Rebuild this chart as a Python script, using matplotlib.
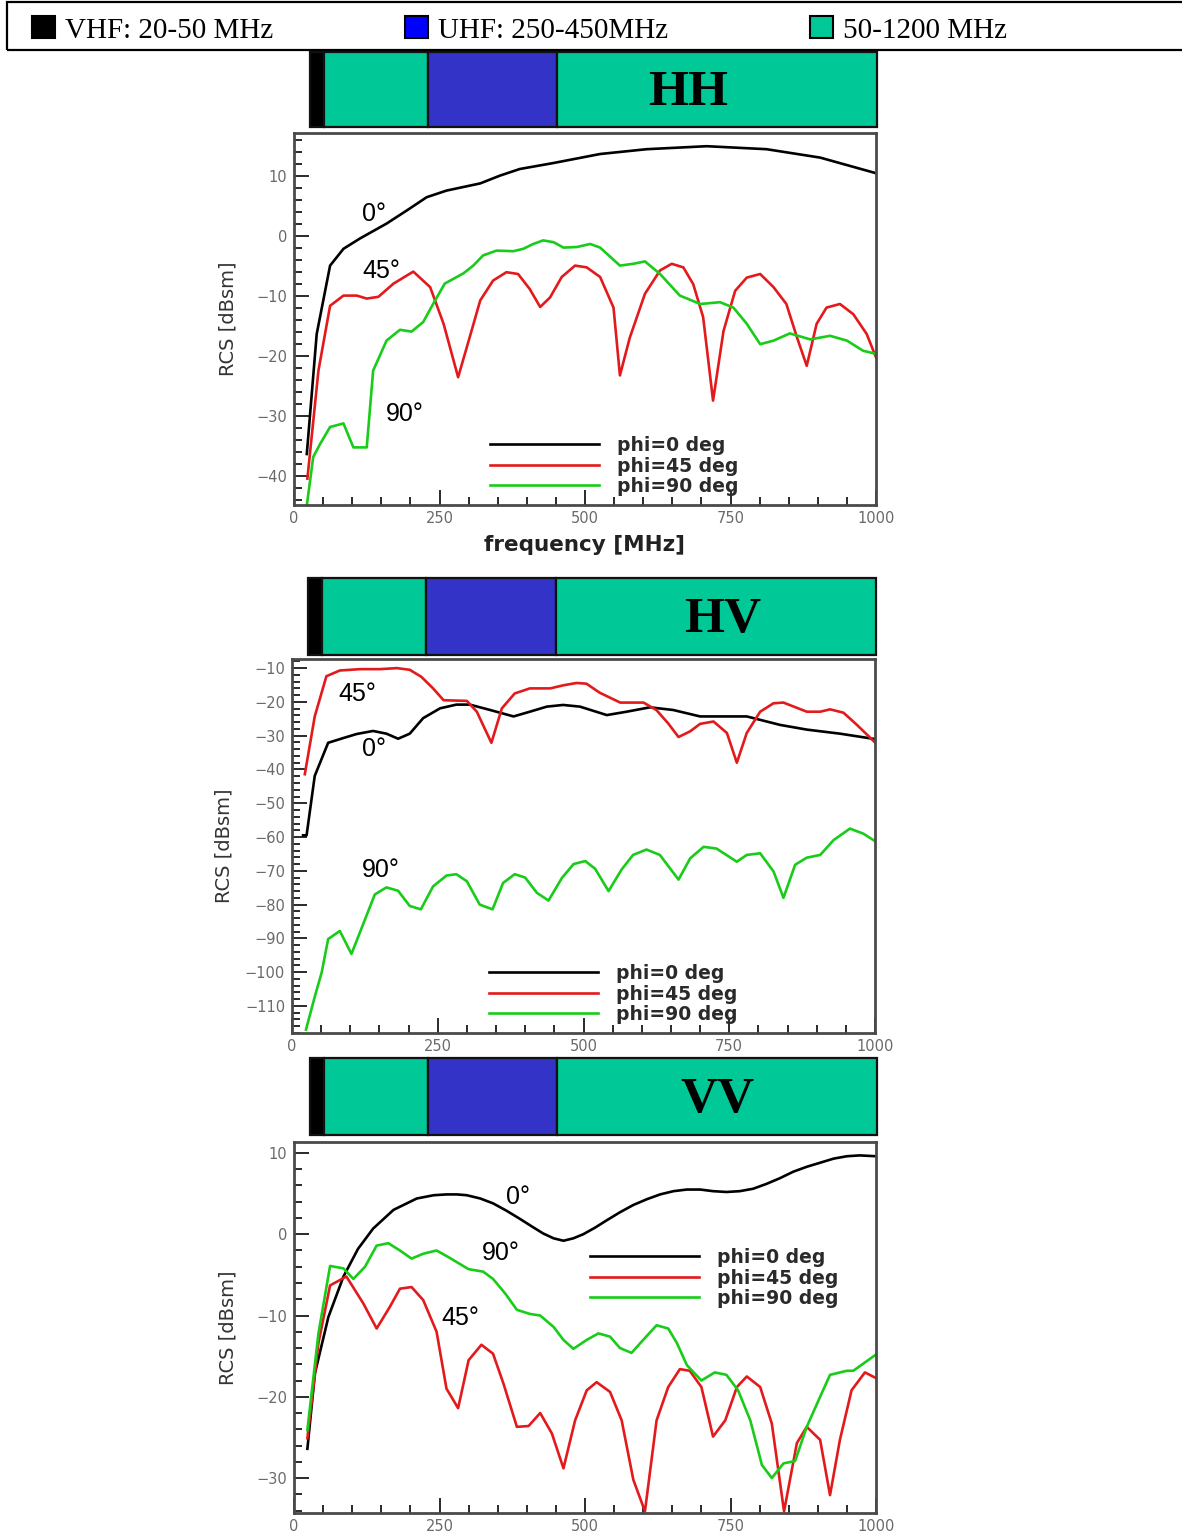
import matplotlib
matplotlib.use("Agg")
import matplotlib.pyplot as plt
from matplotlib.patches import Rectangle
from matplotlib.ticker import MultipleLocator

# ---------------------------------------------------------------- data
# HH polarisation
hh_f0 = [22, 39, 62, 85, 113, 159, 194, 228, 262, 291, 320, 354, 388, 446, 526, 606, 709, 812, 904, 1000]
hh_db0 = [-36.3, -16.3, -4.9, -2.1, -0.4, 2.1, 4.3, 6.5, 7.6, 8.2, 8.8, 10.1, 11.2, 12.2, 13.7, 14.5, 15.0, 14.5, 13.1, 10.5]

hh_f45 = [23, 42, 62, 85, 108, 125, 145, 171, 205, 234, 257, 282, 302, 320, 342, 365, 385, 405, 423,
          440, 460, 483, 503, 526, 549, 560, 577, 603, 629, 649, 669, 686, 703, 720, 738, 758, 778,
          801, 824, 846, 864, 881, 898, 915, 938, 961, 984, 1000]
hh_db45 = [-40.4, -22.4, -11.6, -9.9, -9.9, -10.4, -10.1, -7.9, -5.9, -8.5, -14.6, -23.5, -16.8, -10.7,
           -7.4, -6.0, -6.3, -8.8, -11.8, -10.2, -6.8, -4.9, -5.2, -6.8, -11.9, -23.2, -16.9, -9.6,
           -5.7, -4.6, -5.2, -8.0, -13.5, -27.4, -15.8, -9.1, -6.9, -6.3, -8.5, -11.3, -16.8, -21.6,
           -14.6, -11.9, -11.3, -13.0, -16.3, -20.2]

hh_f90 = [22, 33, 45, 62, 85, 102, 125, 136, 159, 182, 202, 222, 239, 259, 291, 308, 325, 348, 377,
          394, 411, 428, 446, 463, 486, 509, 526, 560, 583, 603, 629, 663, 698, 732, 755, 778, 801,
          824, 852, 887, 921, 950, 978, 1000]
hh_db90 = [-44.9, -36.8, -34.6, -31.8, -31.2, -35.2, -35.2, -22.4, -17.4, -15.6, -15.9, -14.3, -11.3,
           -7.9, -6.2, -4.9, -3.2, -2.4, -2.5, -2.1, -1.3, -0.7, -1.0, -1.9, -1.8, -1.3, -1.9, -4.9,
           -4.6, -4.2, -6.3, -9.9, -11.3, -11.0, -11.9, -14.6, -18.0, -17.4, -16.2, -17.2, -16.6,
           -17.4, -19.1, -19.6]

# HV polarisation
hv_f0 = [19, 25, 39, 62, 88, 111, 139, 162, 182, 202, 225, 254, 282, 305, 340, 380, 408, 437, 465,
         494, 540, 574, 614, 654, 700, 780, 837, 883, 940, 1000]
hv_db0 = [-59.5, -59.5, -41.9, -32.1, -30.7, -29.5, -28.6, -29.4, -30.9, -29.4, -24.8, -21.9, -20.8,
          -20.8, -22.4, -24.3, -22.9, -21.4, -20.9, -21.4, -23.9, -22.9, -21.6, -22.4, -24.3, -24.3,
          -26.8, -28.2, -29.4, -31.0]

hv_f45 = [22, 39, 59, 82, 117, 151, 180, 202, 222, 242, 260, 300, 317, 342, 360, 382, 408, 443, 465,
          488, 505, 528, 563, 603, 625, 645, 663, 683, 700, 723, 746, 763, 780, 803, 826, 843, 883,
          906, 923, 946, 969, 1000]
hv_db45 = [-41.4, -24.3, -12.4, -10.7, -10.3, -10.3, -10.0, -10.5, -12.6, -16.0, -19.5, -19.7, -22.9,
           -32.1, -21.9, -17.5, -16.0, -16.0, -15.1, -14.4, -14.6, -17.3, -20.2, -20.2, -22.4, -26.3,
           -30.4, -28.7, -26.5, -25.8, -29.2, -38.0, -29.2, -22.9, -20.4, -20.2, -22.9, -22.9, -22.2,
           -23.2, -26.8, -32.0]

hv_f90 = [24, 39, 51, 62, 82, 102, 122, 142, 162, 182, 202, 221, 242, 265, 282, 300, 322, 344, 362,
          382, 400, 420, 440, 463, 483, 503, 520, 543, 565, 585, 608, 631, 663, 683, 706, 728, 763,
          780, 803, 826, 843, 863, 883, 906, 929, 957, 980, 1000]
hv_db90 = [-117.0, -107.3, -100.0, -90.2, -87.8, -94.6, -85.8, -77.0, -74.9, -75.9, -80.4, -81.4,
           -74.6, -71.4, -71.0, -73.1, -80.0, -81.4, -73.6, -71.0, -72.0, -76.5, -78.8, -72.1, -68.0,
           -67.1, -69.4, -76.0, -69.7, -65.3, -63.7, -65.3, -72.6, -66.3, -62.9, -63.4, -67.3, -65.3,
           -64.8, -70.2, -78.0, -68.2, -66.1, -65.3, -60.9, -57.5, -59.0, -61.2]

# VV polarisation
vv_f0 = [23, 36, 59, 85, 110, 136, 171, 211, 240, 262, 280, 297, 320, 342, 365, 388, 410, 428, 446,
         463, 480, 497, 517, 537, 560, 583, 606, 629, 652, 675, 698, 720, 743, 766, 789, 812, 835,
         858, 881, 904, 927, 950, 972, 1000]
vv_db0 = [-26.4, -17.1, -10.2, -5.2, -1.8, 0.7, 3.0, 4.4, 4.8, 4.9, 4.9, 4.8, 4.4, 3.8, 2.9, 1.9,
          0.9, 0.1, -0.5, -0.8, -0.5, 0.0, 0.8, 1.7, 2.7, 3.6, 4.3, 4.9, 5.3, 5.5, 5.5, 5.3, 5.2,
          5.3, 5.6, 6.2, 6.9, 7.7, 8.3, 8.8, 9.3, 9.6, 9.7, 9.6]

vv_f45 = [23, 42, 62, 90, 119, 142, 165, 182, 202, 222, 245, 262, 282, 300, 322, 342, 360, 383, 403,
          423, 443, 463, 483, 503, 520, 543, 563, 583, 603, 623, 643, 663, 680, 700, 720, 741, 761,
          778, 801, 821, 842, 864, 881, 904, 921, 938, 958, 981, 1000]
vv_db45 = [-25.1, -13.4, -6.3, -5.2, -8.5, -11.6, -8.9, -6.7, -6.5, -8.1, -12.0, -19.0, -21.4, -15.5,
           -13.6, -14.7, -18.4, -23.7, -23.6, -22.0, -24.5, -28.8, -22.9, -19.2, -18.2, -19.4, -22.9,
           -30.2, -34.1, -22.9, -18.8, -16.6, -16.8, -18.8, -24.9, -22.9, -18.8, -17.5, -18.8, -23.3,
           -34.1, -25.7, -23.7, -25.3, -32.1, -25.3, -19.2, -17.0, -17.7]

vv_f90 = [23, 42, 62, 85, 102, 122, 142, 162, 182, 202, 222, 245, 265, 300, 325, 342, 363, 383, 405,
          423, 446, 463, 480, 503, 523, 543, 560, 580, 600, 623, 643, 658, 675, 700, 723, 743, 763,
          784, 804, 821, 841, 861, 881, 904, 921, 950, 961, 1000]
vv_db90 = [-24.1, -12.2, -3.9, -4.2, -5.5, -4.0, -1.4, -1.1, -2.0, -3.0, -2.4, -2.0, -2.8, -4.3, -4.6,
           -5.5, -7.3, -9.3, -9.8, -10.0, -11.4, -13.0, -14.1, -13.0, -12.2, -12.6, -14.0, -14.6,
           -13.0, -11.2, -11.6, -13.4, -16.1, -18.0, -17.0, -17.3, -19.2, -22.9, -28.4, -30.0, -28.2,
           -27.9, -23.7, -20.0, -17.3, -16.8, -16.8, -14.8]

series_labels = ["phi=0 deg", "phi=45 deg", "phi=90 deg"]
angle_labels = ["0°", "45°", "90°"]

# frequency bands shown in the strip above each panel (MHz)
band_edges = [28, 52, 230, 452, 1002]
band_names = ["VHF: 20-50 MHz", "UHF: 250-450MHz", "50-1200 MHz"]

# ---------------------------------------------------------------- styling
W, H = 1182, 1533
LINE_COLORS = ["#000000", "#e31a1c", "#19cc19"]
TEAL = "#00c896"
BAR_BLUE = "#3333c8"
BAND_COLORS = ["#000000", TEAL, BAR_BLUE, TEAL]

fig = plt.figure(figsize=(W / 100, H / 100), dpi=100)


def fx(px):
    return px / W


def fy(py):
    return 1 - py / H


def panel(box, bar_box, ylim, curves, tag, tag_x, legend_px, notes, ylabel_x, xlabel=False):
    left, top, right, bottom = box
    ax = fig.add_axes([fx(left), fy(bottom), (right - left) / W, (bottom - top) / H])
    for (f, db), c, lab in zip(curves, LINE_COLORS, series_labels):
        ax.plot(f, db, color=c, lw=1.9, label=lab, solid_joinstyle="round")
    ax.set_xlim(0, 1000)
    ax.set_ylim(*ylim)
    ax.xaxis.set_major_locator(MultipleLocator(250))
    ax.xaxis.set_minor_locator(MultipleLocator(50))
    ax.yaxis.set_major_locator(MultipleLocator(10))
    ax.yaxis.set_minor_locator(MultipleLocator(2))
    ax.tick_params(which="both", direction="in", top=False, right=False,
                   color="#2a2a2a", width=1.4, labelcolor="#6a6a6a", labelsize=10.5)
    ax.tick_params(which="major", length=11, pad=5)
    ax.tick_params(which="minor", length=5.5)
    ax.tick_params(axis="x", which="major", pad=4)
    for sp in ax.spines.values():
        sp.set_color("#4a4a4a")
        sp.set_linewidth(2.0)
    ax.set_ylabel("RCS [dBsm]", fontsize=14, color="#333333")
    # right edge of the rotated label sits at ylabel_x (figure pixels)
    ax.yaxis.set_label_coords((ylabel_x - left) / (right - left), 0.5)
    if xlabel:
        ax.set_xlabel("frequency [MHz]", fontsize=15.5, fontweight="bold",
                      color="#222222", labelpad=7)

    for (nx, ny), txt in zip(notes, angle_labels):
        ax.text(nx, ny, txt, fontsize=18, family="Liberation Sans",
                ha="left", va="center")

    lx, ly = legend_px
    ax.legend(loc="upper left", bbox_to_anchor=(fx(lx), fy(ly)),
              bbox_transform=fig.transFigure, frameon=False, borderpad=0,
              borderaxespad=0, handlelength=5.8, handletextpad=0.95,
              labelspacing=0.08, prop={"size": 13.5, "weight": "bold"},
              labelcolor="#2a2a2a")

    # band strip
    btop, bbottom = bar_box
    bar = fig.add_axes([fx(left), fy(bbottom), (right - left) / W, (bbottom - btop) / H])
    bar.set_xlim(0, 1000)
    bar.set_ylim(0, 1)
    bar.axis("off")
    for a, b, c in zip(band_edges[:-1], band_edges[1:], BAND_COLORS):
        bar.add_patch(Rectangle((a, 0), b - a, 1, facecolor=c, edgecolor="#111111",
                                lw=1.6, clip_on=False))
    bar.text(tag_x, 0.53, tag, fontsize=37, family="Liberation Serif", fontweight="bold",
             ha="center", va="center_baseline")
    return ax


panel((294, 133, 876, 505), (52, 127), (-44.8, 17.2),
      [(hh_f0, hh_db0), (hh_f45, hh_db45), (hh_f90, hh_db90)],
      "HH", 677, (490, 436), [(117, 3.7), (117, -5.8), (158, -29.6)], 237, xlabel=True)

panel((292, 659, 875, 1033), (578, 655), (-118, -7.3),
      [(hv_f0, hv_db0), (hv_f45, hv_db45), (hv_f90, hv_db90)],
      "HV", 738, (489, 964), [(120, -34.0), (79, -17.7), (120, -69.8)], 234)

panel((294, 1142, 876, 1513), (1058, 1135), (-34.3, 11.35),
      [(vv_f0, vv_db0), (vv_f45, vv_db45), (vv_f90, vv_db90)],
      "VV", 727, (590, 1248), [(364, 4.6), (254, -10.3), (323, -2.3)], 237)

# ---------------------------------------------------------------- band key
fig.patches.append(Rectangle((fx(7), fy(50)), fx(1200) - fx(7), 48 / H, transform=fig.transFigure,
                             facecolor="none", edgecolor="black", lw=1.6))
key_colors = ["#000000", "#0000ff", TEAL]
key_x = [32, 405, 810]
for x0, c, name in zip(key_x, key_colors, band_names):
    fig.patches.append(Rectangle((fx(x0), fy(38)), 23 / W, 22 / H, transform=fig.transFigure,
                                 facecolor=c, edgecolor="black", lw=1.5))
    fig.text(fx(x0 + 33), fy(31), name, fontsize=21, family="Liberation Serif",
             ha="left", va="center")

fig.savefig("out.png", dpi=100)
